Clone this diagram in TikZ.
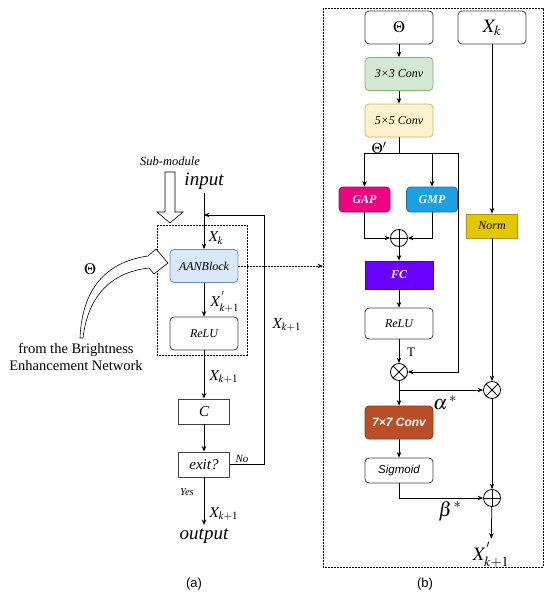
\documentclass[tikz,border=0pt]{standalone}
\usepackage{mathptmx}
\usepackage{fontspec}
\setmainfont{Liberation Serif}
\setsansfont{Liberation Sans}
\newfontfamily\capfont{Liberation Sans}
\usetikzlibrary{arrows.meta}
\definecolor{aanf}{HTML}{DAE8FC}
\definecolor{aand}{HTML}{6C8EBF}
\definecolor{cthree}{HTML}{D5E8D4}
\definecolor{cthreed}{HTML}{82B366}
\definecolor{cfive}{HTML}{FFF2CC}
\definecolor{cfived}{HTML}{D6B656}
\definecolor{gapc}{HTML}{EC0480}
\definecolor{gmpc}{HTML}{1BA1E2}
\definecolor{fcc}{HTML}{6A00FF}
\definecolor{normc}{HTML}{E3C800}
\definecolor{normd}{HTML}{B09500}
\definecolor{cseven}{HTML}{BA4E26}

\begin{document}
\begin{tikzpicture}[x=1pt,y=-1pt,line width=0.8pt,
  font=\fontsize{12}{14}\selectfont\itshape,
  arr/.style={-{Stealth[length=5.5pt,width=4.5pt]}},
  dots/.style={dash pattern=on 1.6pt off 1.4pt},
  blk/.style={draw=black!75,rounded corners=4pt,fill=white,inner sep=0pt,
    minimum width=68pt,minimum height=33pt},
  flat/.style={draw=black!75,fill=white,inner sep=0pt,
    minimum width=51pt,minimum height=25pt,font=\fontsize{15}{17}\selectfont\itshape},
  colblk/.style={draw=#1!70!black,fill=#1,rounded corners=4pt,inner sep=0pt,
    minimum width=51pt,minimum height=25pt,text=white,font=\fontsize{12}{14}\selectfont\bfseries\itshape},
  lbl/.style={font=\fontsize{15}{17}\selectfont},
  big/.style={font=\fontsize{19}{22}\selectfont\itshape},
  oplus/.style={circle,draw,fill=white,minimum size=17pt,inner sep=0pt,
    path picture={\draw (path picture bounding box.north) -- (path picture bounding box.south)
      (path picture bounding box.west) -- (path picture bounding box.east);}},
  otimes/.style={circle,draw,fill=white,minimum size=17pt,inner sep=0pt,
    path picture={\draw (path picture bounding box.north west) -- (path picture bounding box.south east)
      (path picture bounding box.south west) -- (path picture bounding box.north east);}}]
\useasboundingbox (0,0) rectangle (550,597);

%%% (a) the loop
\node[font=\fontsize{12.5}{14}\selectfont\itshape] (sub) at (170,161) {Sub-module};
\draw[fill=white,line width=0.6pt] (165,172) -- (175,172) -- (175,212) -- (183,212) -- (170,223)
  -- (157,212) -- (165,212) -- cycle;
\draw[dots] (157,225) rectangle (247,355);

\node[big] (input) at (204,181) {input};
\node[blk,draw=aand,fill=aanf] (aan) at (204,266) {AANBlock};
\node[blk] (relu1) at (204,333.5) {ReLU};
\node[flat] (cbox) at (204,411.5) {C};
\node[flat] (exit) at (204,464.5) {exit?};
\node[big] (output) at (204,536) {output};
\coordinate (fb) at (204,215);

\draw[arr] (input) -- (aan);
\draw[arr] (aan) -- (relu1);
\draw[arr] (relu1) -- (cbox);
\draw[arr] (cbox) -- (exit);
\draw[arr] (exit) -- (output);
\draw[arr] (exit.east) -- ++(34,0) |- (fb);

\node[lbl] (xk1) at (216,238) {$X_k$};
\node[lbl] (xp1) at (225,302) {$X^{'}_{k+1}$};
\node[lbl] (xk2) at (224,377) {$X_{k+1}$};
\node[lbl] (xk3) at (287,325) {$X_{k+1}$};
\node[lbl] (xk4) at (224,514) {$X_{k+1}$};
\node[font=\fontsize{11}{13}\selectfont\itshape] (no) at (242,459) {No};
\node[font=\fontsize{10.5}{12}\selectfont\itshape] (yes) at (187,492) {Yes};

%%% hollow arrow from the other network
\draw[fill=white,line width=0.6pt] (80,338) .. controls (82,290) and (105,262) .. (148,256)
  -- (156,249) -- (168,263) -- (154,274) -- (149,268)
  .. controls (112,272) and (88,295) .. (83,338) -- cycle;
\node[font=\fontsize{16}{18}\selectfont\boldmath] (theta0) at (90,269) {$\Theta$};
\node[align=center,font=\fontsize{14.5}{17}\selectfont] (from) at (76,357)
  {from the Brightness\\Enhancement Network};

%%% (b) the block
\draw[dots] (323,8) rectangle (543,567);
\coordinate (panel) at (323,266);
\draw[dots,arr] (aan) -- (aan -| panel);

\node[blk] (theta) at (399,27.5) {\fontsize{16}{18}\selectfont$\Theta$};
\node[blk] (xk) at (492,27.5) {\fontsize{19}{22}\selectfont$X_k$};
\node[blk,draw=cthreed,fill=cthree] (conv3) at (399,74) {3\texttimes3 Conv};
\node[blk,draw=cfived,fill=cfive] (conv5) at (399,120.5) {5\texttimes5 Conv};
\node[colblk=gapc] (gap) at (364.5,199.5) {GAP};
\node[colblk=gmpc] (gmp) at (432,199.5) {GMP};
\node[oplus] (plus1) at (399,238) {};
\node[colblk=fcc,rounded corners=0pt,minimum width=68pt,minimum height=28pt] (fc) at (399,275) {FC};
\node[blk,minimum height=31pt] (relu2) at (399,323.5) {ReLU};
\node[otimes] (times1) at (399,372) {};
\node[draw=normd,fill=normc,inner sep=0pt,minimum width=51pt,minimum height=24pt] (norm) at (492,226) {Norm};
\node[otimes] (times2) at (492,390) {};
\node[colblk=cseven,minimum width=68pt,minimum height=33pt,
  font=\fontsize{12}{14}\selectfont\sffamily\bfseries\itshape] (conv7) at (399,422.5) {7\texttimes7 Conv};
\node[blk,minimum height=25pt,font=\fontsize{11.5}{14}\selectfont\sffamily\itshape] (sigm) at (399,470.5) {Sigmoid};
\node[oplus] (plus2) at (492,498) {};
\node[font=\fontsize{19}{22}\selectfont] (xout) at (491,555) {$X^{'}_{k+1}$};
\coordinate (br) at (399,153);
\coordinate (ab) at (399,390);

\draw[arr] (theta) -- (conv3);
\draw[arr] (conv3) -- (conv5);
\draw (conv5) -- (br);
\draw[arr] (br) -| (gap);
\draw[arr] (br) -| (gmp);
\draw[arr] (br) -- ++(59,0) |- (times1);
\draw[arr] (gap) |- (plus1);
\draw[arr] (gmp) |- (plus1);
\draw[arr] (plus1) -- (fc);
\draw[arr] (fc) -- (relu2);
\draw[arr] (relu2) -- (times1);
\draw[arr] (times1) -- (conv7);
\draw[arr] (ab) -- (times2);
\draw[arr] (xk) -- (norm);
\draw[arr] (norm) -- (times2);
\draw[arr] (times2) -- (plus2);
\draw[arr] (conv7) -- (sigm);
\draw[arr] (sigm) |- (plus2);
\draw[arr] (plus2) -- (xout);

\node[font=\fontsize{15}{17}\selectfont\boldmath] (thp) at (379,148) {$\Theta'$};
\node[font=\fontsize{13}{15}\selectfont\upshape] (tt) at (411,352) {T};
\node[font=\fontsize{20}{22}\selectfont,inner sep=0pt] (alpha) at (445,403) {$\alpha^{\,*}$};
\node[font=\fontsize{20}{22}\selectfont,inner sep=0pt] (beta) at (450,511) {$\beta^{\,*}$};

%%% captions
\node[font=\fontsize{13}{15}\selectfont\capfont] (capa) at (194,584) {(a)};
\node[font=\fontsize{13}{15}\selectfont\capfont] (capb) at (425,584) {(b)};
\end{tikzpicture}
\end{document}
